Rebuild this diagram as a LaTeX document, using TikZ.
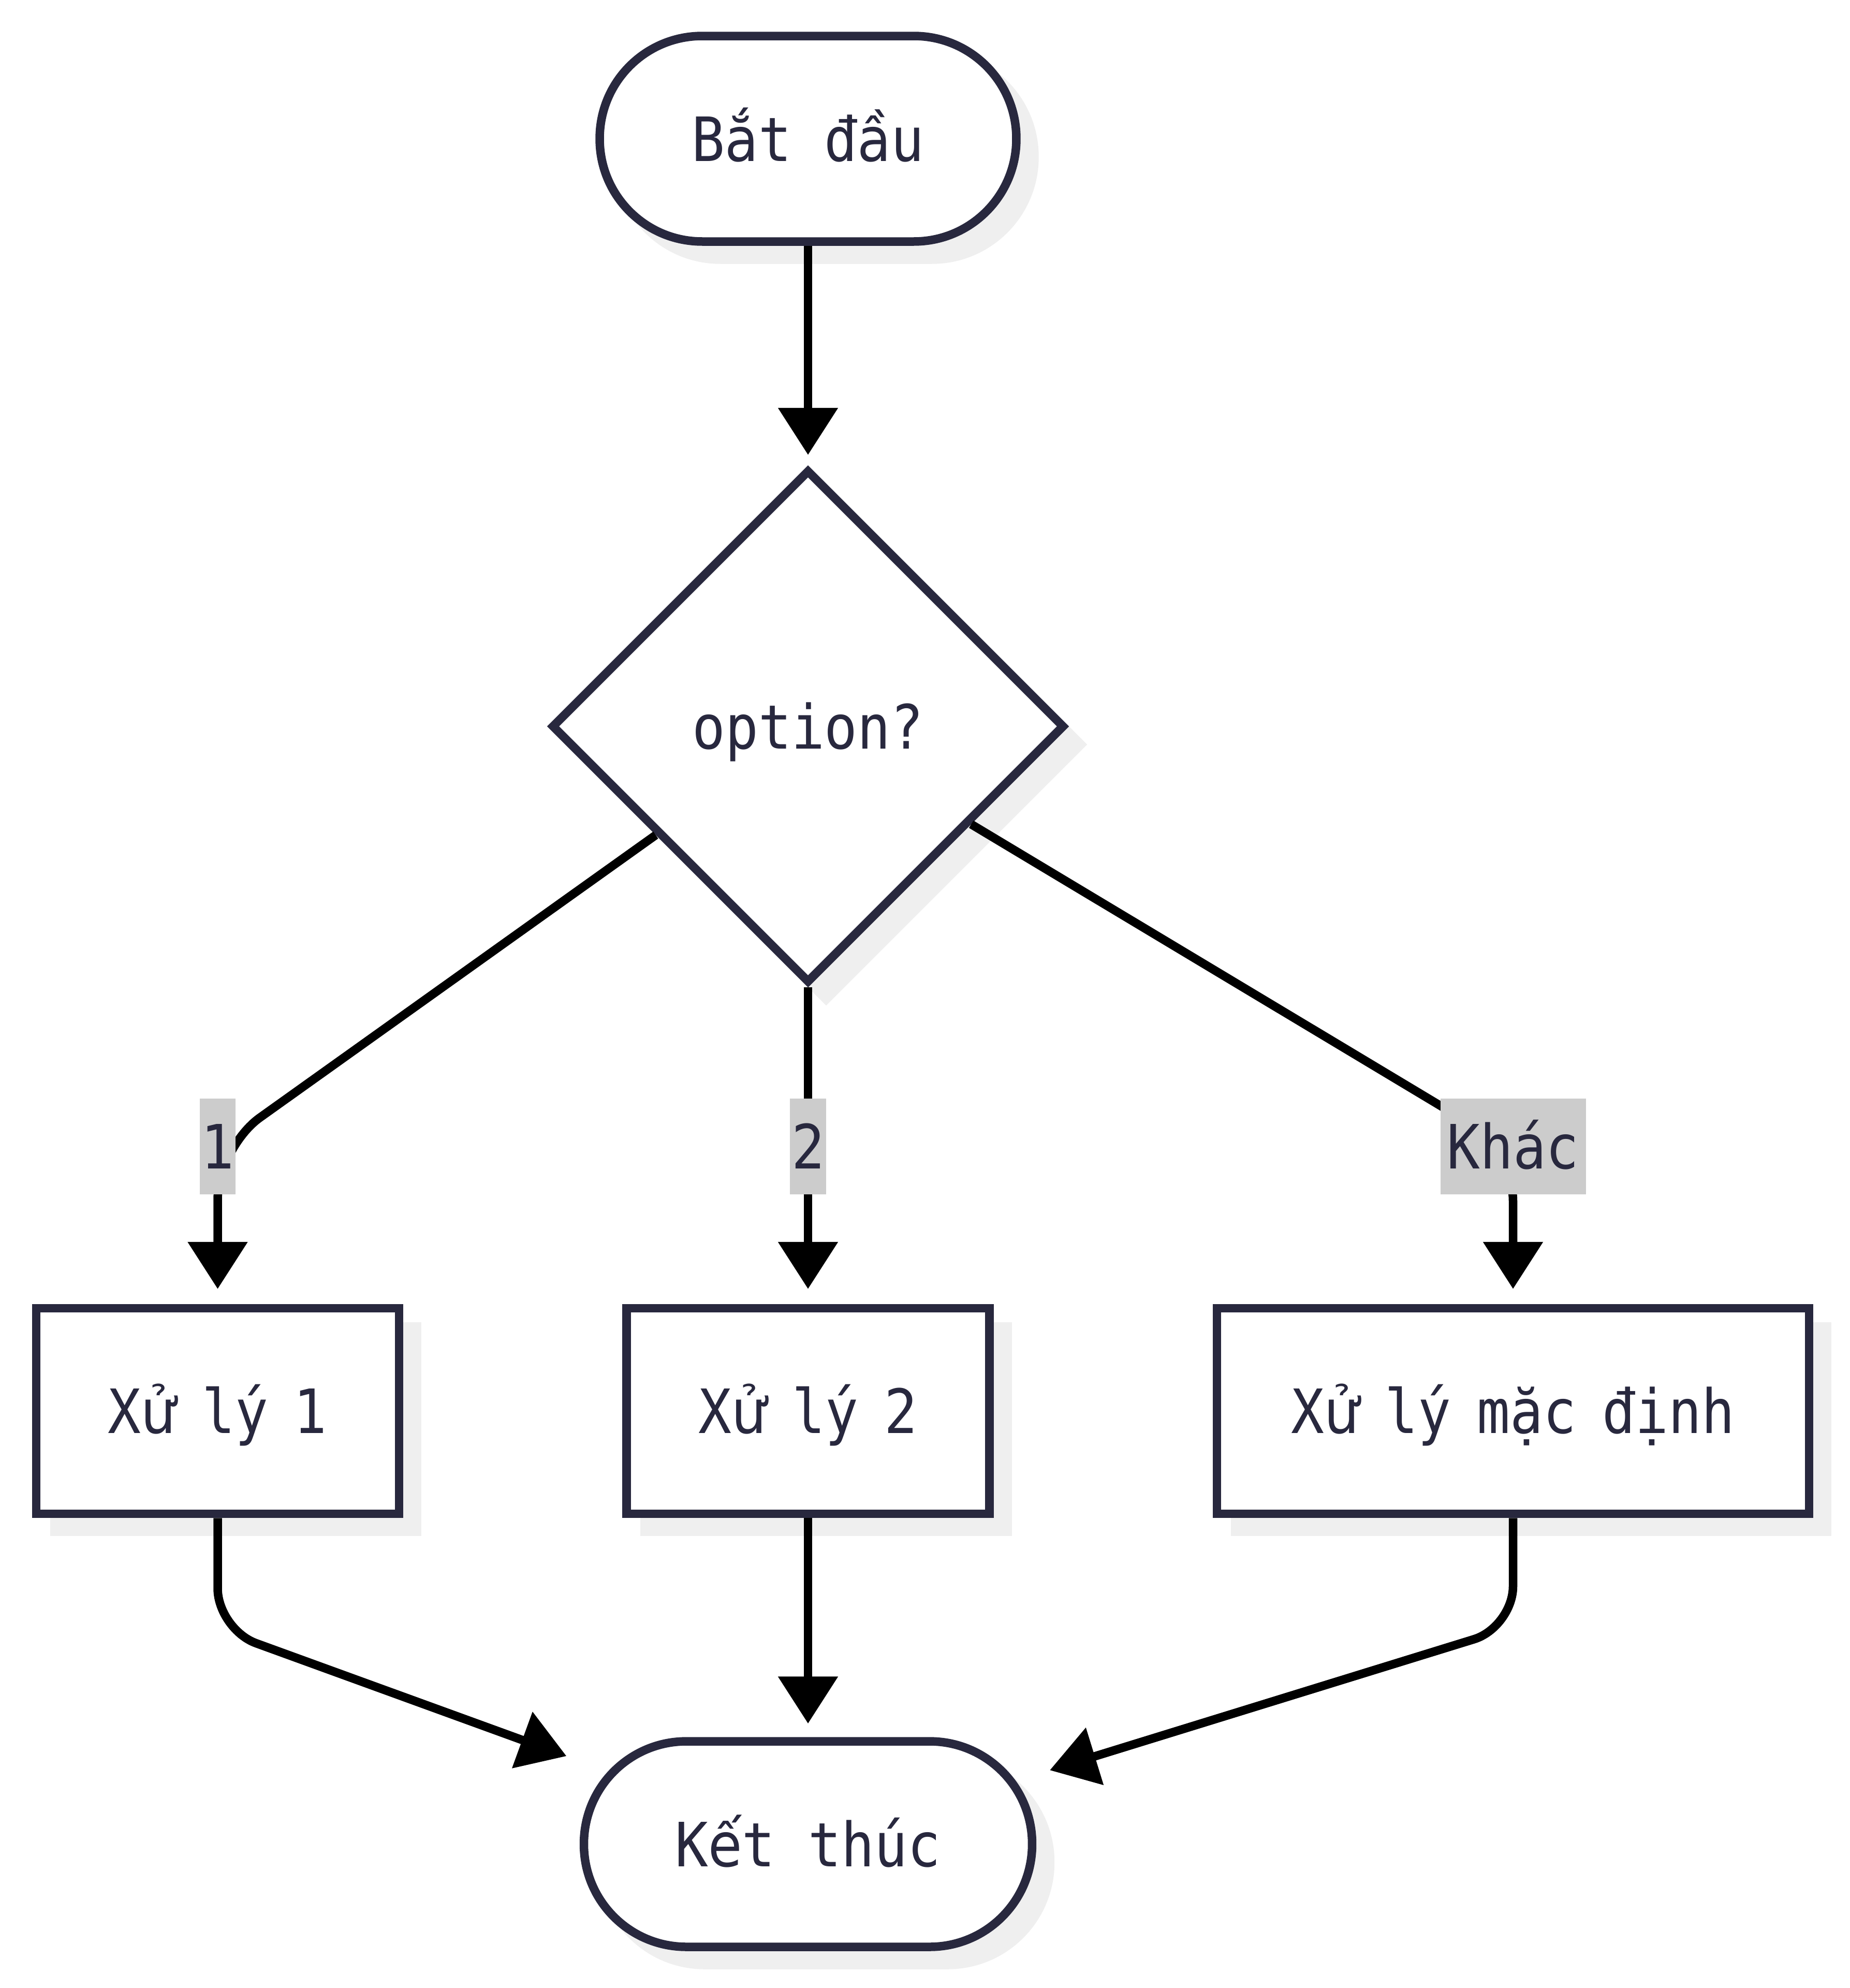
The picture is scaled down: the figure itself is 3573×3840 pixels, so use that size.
\documentclass[tikz,border=0pt]{standalone}
\usepackage{fontspec}
\setmainfont{DejaVu Sans Mono}[FakeStretch=0.9]
\newfontfamily\vnfallback{DejaVu Sans}[FakeStretch=0.9]
\newcommand{\vnch}[1]{{\vnfallback #1}}
\newcommand{\nsp}{\hspace{5pt}}
\usetikzlibrary{shapes.geometric,arrows.meta,shadows,calc}
\definecolor{ink}{HTML}{28283E}
\definecolor{shadowgray}{HTML}{EFEFEF}
\definecolor{labelbg}{HTML}{CCCCCC}
\begin{document}
\begin{tikzpicture}[x=0.1pt,y=-0.1pt,
  txt/.style={text=ink, font=\fontsize{11.8pt}{14pt}\selectfont, text height=8.6pt, text depth=0pt},
  base/.style={txt, draw=ink, line width=1.65pt, fill=white, inner sep=0pt,
    drop shadow={shadow xshift=3.5pt,shadow yshift=-3.5pt,fill=shadowgray,draw=shadowgray,opacity=1}},
  term/.style={base, rectangle, rounded corners=19.8pt, minimum height=39.7pt},
  proc/.style={base, rectangle, minimum height=39.7pt},
  decision/.style={base, diamond, aspect=1, minimum width=99.2pt, minimum height=99.2pt},
  edge/.style={draw=black, line width=1.65pt, -{Triangle[width=11.2pt,length=9.1pt]}, shorten >=2.9pt},
  elabel/.style={txt, fill=labelbg, inner xsep=0.3pt, inner ysep=0pt, minimum height=18.5pt}
]
\useasboundingbox (0,0) rectangle (3573,3840);

\node[term, minimum width=80.5pt] (start) at (1561,268) {B\vnch{ắ}t đ\vnch{ầ}u};
\node[decision] (dia) at (1561,1403) {option?};
\node[proc, minimum width=70.1pt] (b1) at (420.5,2725.5) {X\vnch{ử}\nsp lý\nsp 1};
\node[proc, minimum width=70.1pt] (b2) at (1561,2725.5) {X\vnch{ử}\nsp lý\nsp 2};
\node[proc, minimum width=114.4pt] (b3) at (2923,2725.5) {X\vnch{ử}\nsp lý\nsp mặc\nsp định};
\node[term, minimum width=86.6pt] (end) at (1561,3562) {K\vnch{ế}t thúc};

\coordinate (k1) at (420.5,2217);
\coordinate (k3) at (2923,2220);
\coordinate (m1) at (420.5,3147);
\coordinate (m3) at (2923,3143);

\draw[edge, shorten >=2pt] (start) -- (dia);
\draw[edge, rounded corners=10pt] (dia) -- (k1) -- (b1);
\draw[edge] (dia) -- (b2);
\draw[edge, rounded corners=10pt] (dia) -- (k3) -- (b3);
\draw[edge, rounded corners=7.9pt, shorten >=2.7pt] (b1) -- (m1) -- ([yshift=-4.6pt]end.north west);
\draw[edge, shorten >=2.6pt] (b2) -- (end);
\draw[edge, rounded corners=7.9pt, shorten >=2.7pt] (b3) -- (m3) -- ([yshift=-7.2pt]end.north east);

\node[elabel] (l1) at (420.5,2214) {1};
\node[elabel] (l2) at (1561,2214) {2};
\node[elabel, minimum width=28.1pt] (l3) at (2923,2214) {Khác};
\end{tikzpicture}
\end{document}
